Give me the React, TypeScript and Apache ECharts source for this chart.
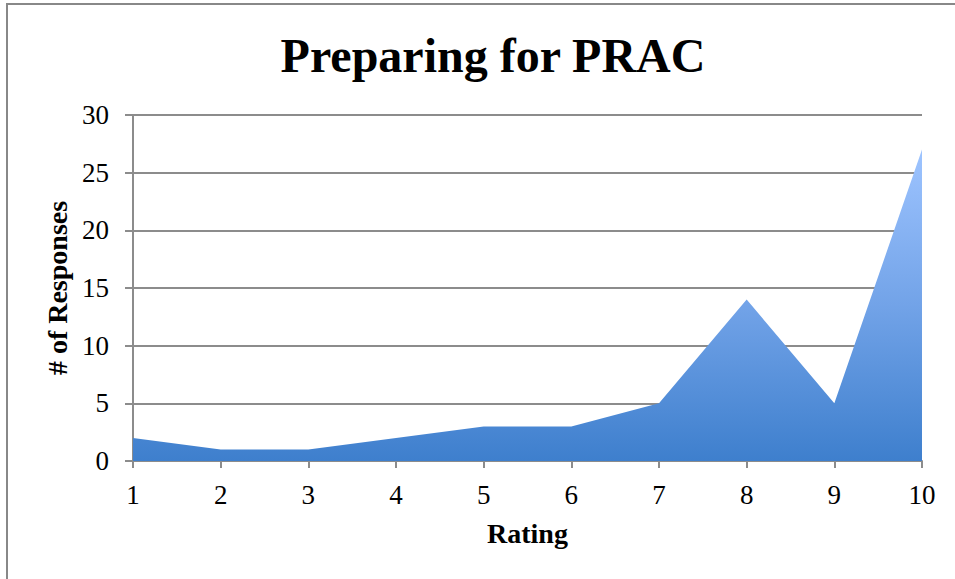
import React, { useEffect, useRef } from "react";
import * as echarts from "echarts";

const categories = ["1", "2", "3", "4", "5", "6", "7", "8", "9", "10"];
const responses = [2, 1, 1, 2, 3, 3, 5, 14, 5, 27];
const titleText = "Preparing for PRAC";
const xName = "Rating";
const yName = "# of Responses";

export default function App() {
  const ref = useRef<HTMLDivElement>(null);
  useEffect(() => {
    if (!ref.current) return;
    const chart = echarts.init(ref.current, null, { renderer: "svg" });
    const font = "'Liberation Serif', 'DejaVu Serif', serif";
    chart.setOption({
      animation: false,
      backgroundColor: "#ffffff",
      title: {
        text: titleText,
        left: 488,
        textAlign: "center",
        top: 26,
        textStyle: { fontFamily: font, fontWeight: "bold", fontSize: 48, color: "#000" },
      },
      graphic: [
        {
          type: "rect",
          shape: { x: 7, y: 4, width: 960, height: 600 },
          style: { fill: "none", stroke: "#888888", lineWidth: 2 },
          silent: true,
        },
      ],
      grid: { left: 133, right: 33, top: 115, bottom: 118 },
      xAxis: {
        type: "category",
        data: categories,
        boundaryGap: false,
        name: xName,
        nameLocation: "middle",
        nameGap: 58,
        nameTextStyle: { fontFamily: font, fontWeight: "bold", fontSize: 28, color: "#000" },
        axisLine: { lineStyle: { color: "#8c8c8c", width: 2 } },
        axisTick: { show: true, length: 7, lineStyle: { color: "#8c8c8c", width: 2 } },
        axisLabel: { fontFamily: font, fontSize: 27, color: "#000", margin: 20 },
        splitLine: { show: false },
      },
      yAxis: {
        type: "value",
        min: 0,
        max: 30,
        interval: 5,
        name: yName,
        nameLocation: "middle",
        nameGap: 59,
        nameTextStyle: { fontFamily: font, fontWeight: "bold", fontSize: 28, color: "#000" },
        axisLine: { show: true, lineStyle: { color: "#8c8c8c", width: 2 } },
        axisTick: { show: true, length: 8, lineStyle: { color: "#8c8c8c", width: 2 } },
        axisLabel: { fontFamily: font, fontSize: 27, color: "#000", margin: 24 },
        splitLine: { show: true, lineStyle: { color: "#8c8c8c", width: 2 } },
      },
      series: [
        {
          type: "line",
          data: responses,
          symbol: "none",
          lineStyle: { width: 0 },
          areaStyle: {
            opacity: 1,
            color: new echarts.graphic.LinearGradient(0, 0, 0, 1, [
              { offset: 0, color: "#9ec4ff" },
              { offset: 0.5, color: "#72a3e8" },
              { offset: 1, color: "#3e7fcd" },
            ]),
          },
        },
      ],
    });
    return () => chart.dispose();
  }, []);
  return <div ref={ref} style={{ width: 955, height: 579, position: "absolute", left: 0, top: 0 }} />;
}
